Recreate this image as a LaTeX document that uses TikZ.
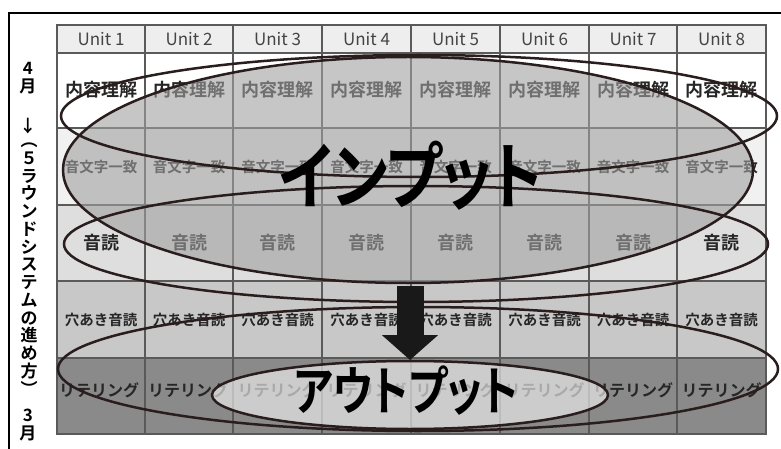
\documentclass[tikz,border=0pt]{standalone}
\usepackage{fontspec}
\newfontfamily\jpfont[BoldFont={* Bold}]{Noto Sans CJK JP}
\newfontfamily\jpbig[BoldFont={* Bold},RawFeature=+palt]{Noto Sans CJK JP}
\usetikzlibrary{arrows.meta}
\definecolor{headgray}{HTML}{EEEEEE}
\definecolor{rowtwo}{HTML}{F1F1F1}
\definecolor{rowthree}{HTML}{DEDEDE}
\definecolor{rowfour}{HTML}{C8C8C8}
\definecolor{rowfive}{HTML}{8A8A8A}
\definecolor{gridline}{HTML}{5A5A5A}
\definecolor{headtext}{HTML}{444444}
\definecolor{celltext}{HTML}{262626}
\definecolor{ringline}{HTML}{2A1D1D}
\definecolor{inputfill}{HTML}{A0A0A0}
\definecolor{outputfill}{HTML}{F0F0F0}
\begin{document}
\begin{tikzpicture}[x=1pt,y=-1pt]
	\tikzstyle{Head} = [font=\jpfont\fontsize{17}{17}\selectfont, text=headtext, inner sep=0pt]
	\tikzstyle{Word} = [font=\jpfont\bfseries\fontsize{18}{18}\selectfont, text=celltext, inner sep=0pt]
	\tikzstyle{WordS} = [font=\jpfont\bfseries\fontsize{14.5}{14.5}\selectfont, text=celltext, inner sep=0pt]
	\tikzstyle{WordM} = [font=\jpfont\bfseries\fontsize{16}{16}\selectfont, text=celltext, inner sep=0pt]
	\tikzstyle{Side} = [font=\jpfont\bfseries\fontsize{17}{17.75}\selectfont, align=center, inner sep=0pt]
	\tikzstyle{Ring} = [draw=ringline, line width=2.5pt]
	\useasboundingbox (0,0) rectangle (781,449);
	% rows
	\fill[headgray] (57,25) rectangle (766,53);
	\fill[white] (57,53) rectangle (766,128);
	\fill[rowtwo] (57,128) rectangle (766,205);
	\fill[rowthree] (57,205) rectangle (766,281);
	\fill[rowfour] (57,281) rectangle (766,358);
	\fill[rowfive] (57,358) rectangle (766,434);
	% grid
	\draw[gridline, line width=1.1pt] (57,25) rectangle (766,434);
	\draw[gridline, line width=1.1pt] (57,53) -- (766,53) (57,128) -- (766,128) (57,205) -- (766,205)
		(57,281) -- (766,281) (57,358) -- (766,358);
	\draw[gridline, line width=1.1pt] (145,25) -- (145,434) (233,25) -- (233,434) (322,25) -- (322,434)
		(411,25) -- (411,434) (500,25) -- (500,434) (589,25) -- (589,434) (677,25) -- (677,434);
	% header
	\node (h1) at (101,39) [Head] {Unit 1};
	\node (h2) at (189,39) [Head] {Unit 2};
	\node (h3) at (277.5,39) [Head] {Unit 3};
	\node (h4) at (366.5,39) [Head] {Unit 4};
	\node (h5) at (455.5,39) [Head] {Unit 5};
	\node (h6) at (544.5,39) [Head] {Unit 6};
	\node (h7) at (633,39) [Head] {Unit 7};
	\node (h8) at (721.5,39) [Head] {Unit 8};
	% rounds
	\node (a1) at (101,90) [Word] {内容理解};
	\node (a2) at (189,90) [Word] {内容理解};
	\node (a3) at (277.5,90) [Word] {内容理解};
	\node (a4) at (366.5,90) [Word] {内容理解};
	\node (a5) at (455.5,90) [Word] {内容理解};
	\node (a6) at (544.5,90) [Word] {内容理解};
	\node (a7) at (633,90) [Word] {内容理解};
	\node (a8) at (721.5,90) [Word] {内容理解};
	\node (b1) at (101,167) [WordS] {音文字一致};
	\node (b2) at (189,167) [WordS] {音文字一致};
	\node (b3) at (277.5,167) [WordS] {音文字一致};
	\node (b4) at (366.5,167) [WordS] {音文字一致};
	\node (b5) at (455.5,167) [WordS] {音文字一致};
	\node (b6) at (544.5,167) [WordS] {音文字一致};
	\node (b7) at (633,167) [WordS] {音文字一致};
	\node (b8) at (721.5,167) [WordS] {音文字一致};
	\node (c1) at (101,243) [Word] {音読};
	\node (c2) at (189,243) [Word] {音読};
	\node (c3) at (277.5,243) [Word] {音読};
	\node (c4) at (366.5,243) [Word] {音読};
	\node (c5) at (455.5,243) [Word] {音読};
	\node (c6) at (544.5,243) [Word] {音読};
	\node (c7) at (633,243) [Word] {音読};
	\node (c8) at (721.5,243) [Word] {音読};
	\node (d1) at (101,320) [WordS] {穴あき音読};
	\node (d2) at (189,320) [WordS] {穴あき音読};
	\node (d3) at (277.5,320) [WordS] {穴あき音読};
	\node (d4) at (366.5,320) [WordS] {穴あき音読};
	\node (d5) at (455.5,320) [WordS] {穴あき音読};
	\node (d6) at (544.5,320) [WordS] {穴あき音読};
	\node (d7) at (633,320) [WordS] {穴あき音読};
	\node (d8) at (721.5,320) [WordS] {穴あき音読};
	\node (e1) at (99,390) [WordM] {リテリング};
	\node (e2) at (188,390) [WordM] {リテリング};
	\node (e3) at (277.5,390) [WordM] {リテリング};
	\node (e4) at (366.5,390) [WordM] {リテリング};
	\node (e5) at (455.5,390) [WordM] {リテリング};
	\node (e6) at (544.5,390) [WordM] {リテリング};
	\node (e7) at (633,390) [WordM] {リテリング};
	\node (e8) at (721.5,390) [WordM] {リテリング};
	% input / output areas
	\fill[inputfill, fill opacity=0.6] (408,170) ellipse [x radius=345pt, y radius=113pt];
	\fill[outputfill, fill opacity=0.65] (410,395) ellipse [x radius=198pt, y radius=34pt];
	\draw[Ring] (419,116) ellipse [x radius=358pt, y radius=61pt];
	\draw[Ring] (408,170) ellipse [x radius=345pt, y radius=113pt];
	\draw[Ring] (416,244) ellipse [x radius=352pt, y radius=58pt];
	\draw[Ring] (418,369) ellipse [x radius=360pt, y radius=62pt];
	\draw[Ring] (410,395) ellipse [x radius=198pt, y radius=34pt];
	\node (input) at (411,176) [font=\jpbig\bfseries\fontsize{60}{60}\selectfont, text=black] {\scalebox{1}[1.22]{インプット}};
	\node (output) at (406,391) [font=\jpbig\bfseries\fontsize{42}{42}\selectfont, text=black] {\scalebox{1}[1.25]{アウトプット}};
	\coordinate (from) at (410,286);
	\coordinate (to) at (410,360);
	\draw[-{Triangle[width=55pt,length=25pt]}, line width=27pt, draw=black!90] (from) -- (to);
	% frame and period
	\draw[line width=2pt] (9,449) -- (9,13) -- (781,13);
	\node (start) at (28,78) [Side] {4\\月};
	\node (down) at (28,126) [Side] {↓};
	\node (period) at (29,269) [Side] {︵\\５\\ラ\\ウ\\ン\\ド\\シ\\ス\\テ\\ム\\の\\進\\め\\方\\︶};
	\node (end) at (28,425) [Side] {3\\月};
\end{tikzpicture}
\end{document}
